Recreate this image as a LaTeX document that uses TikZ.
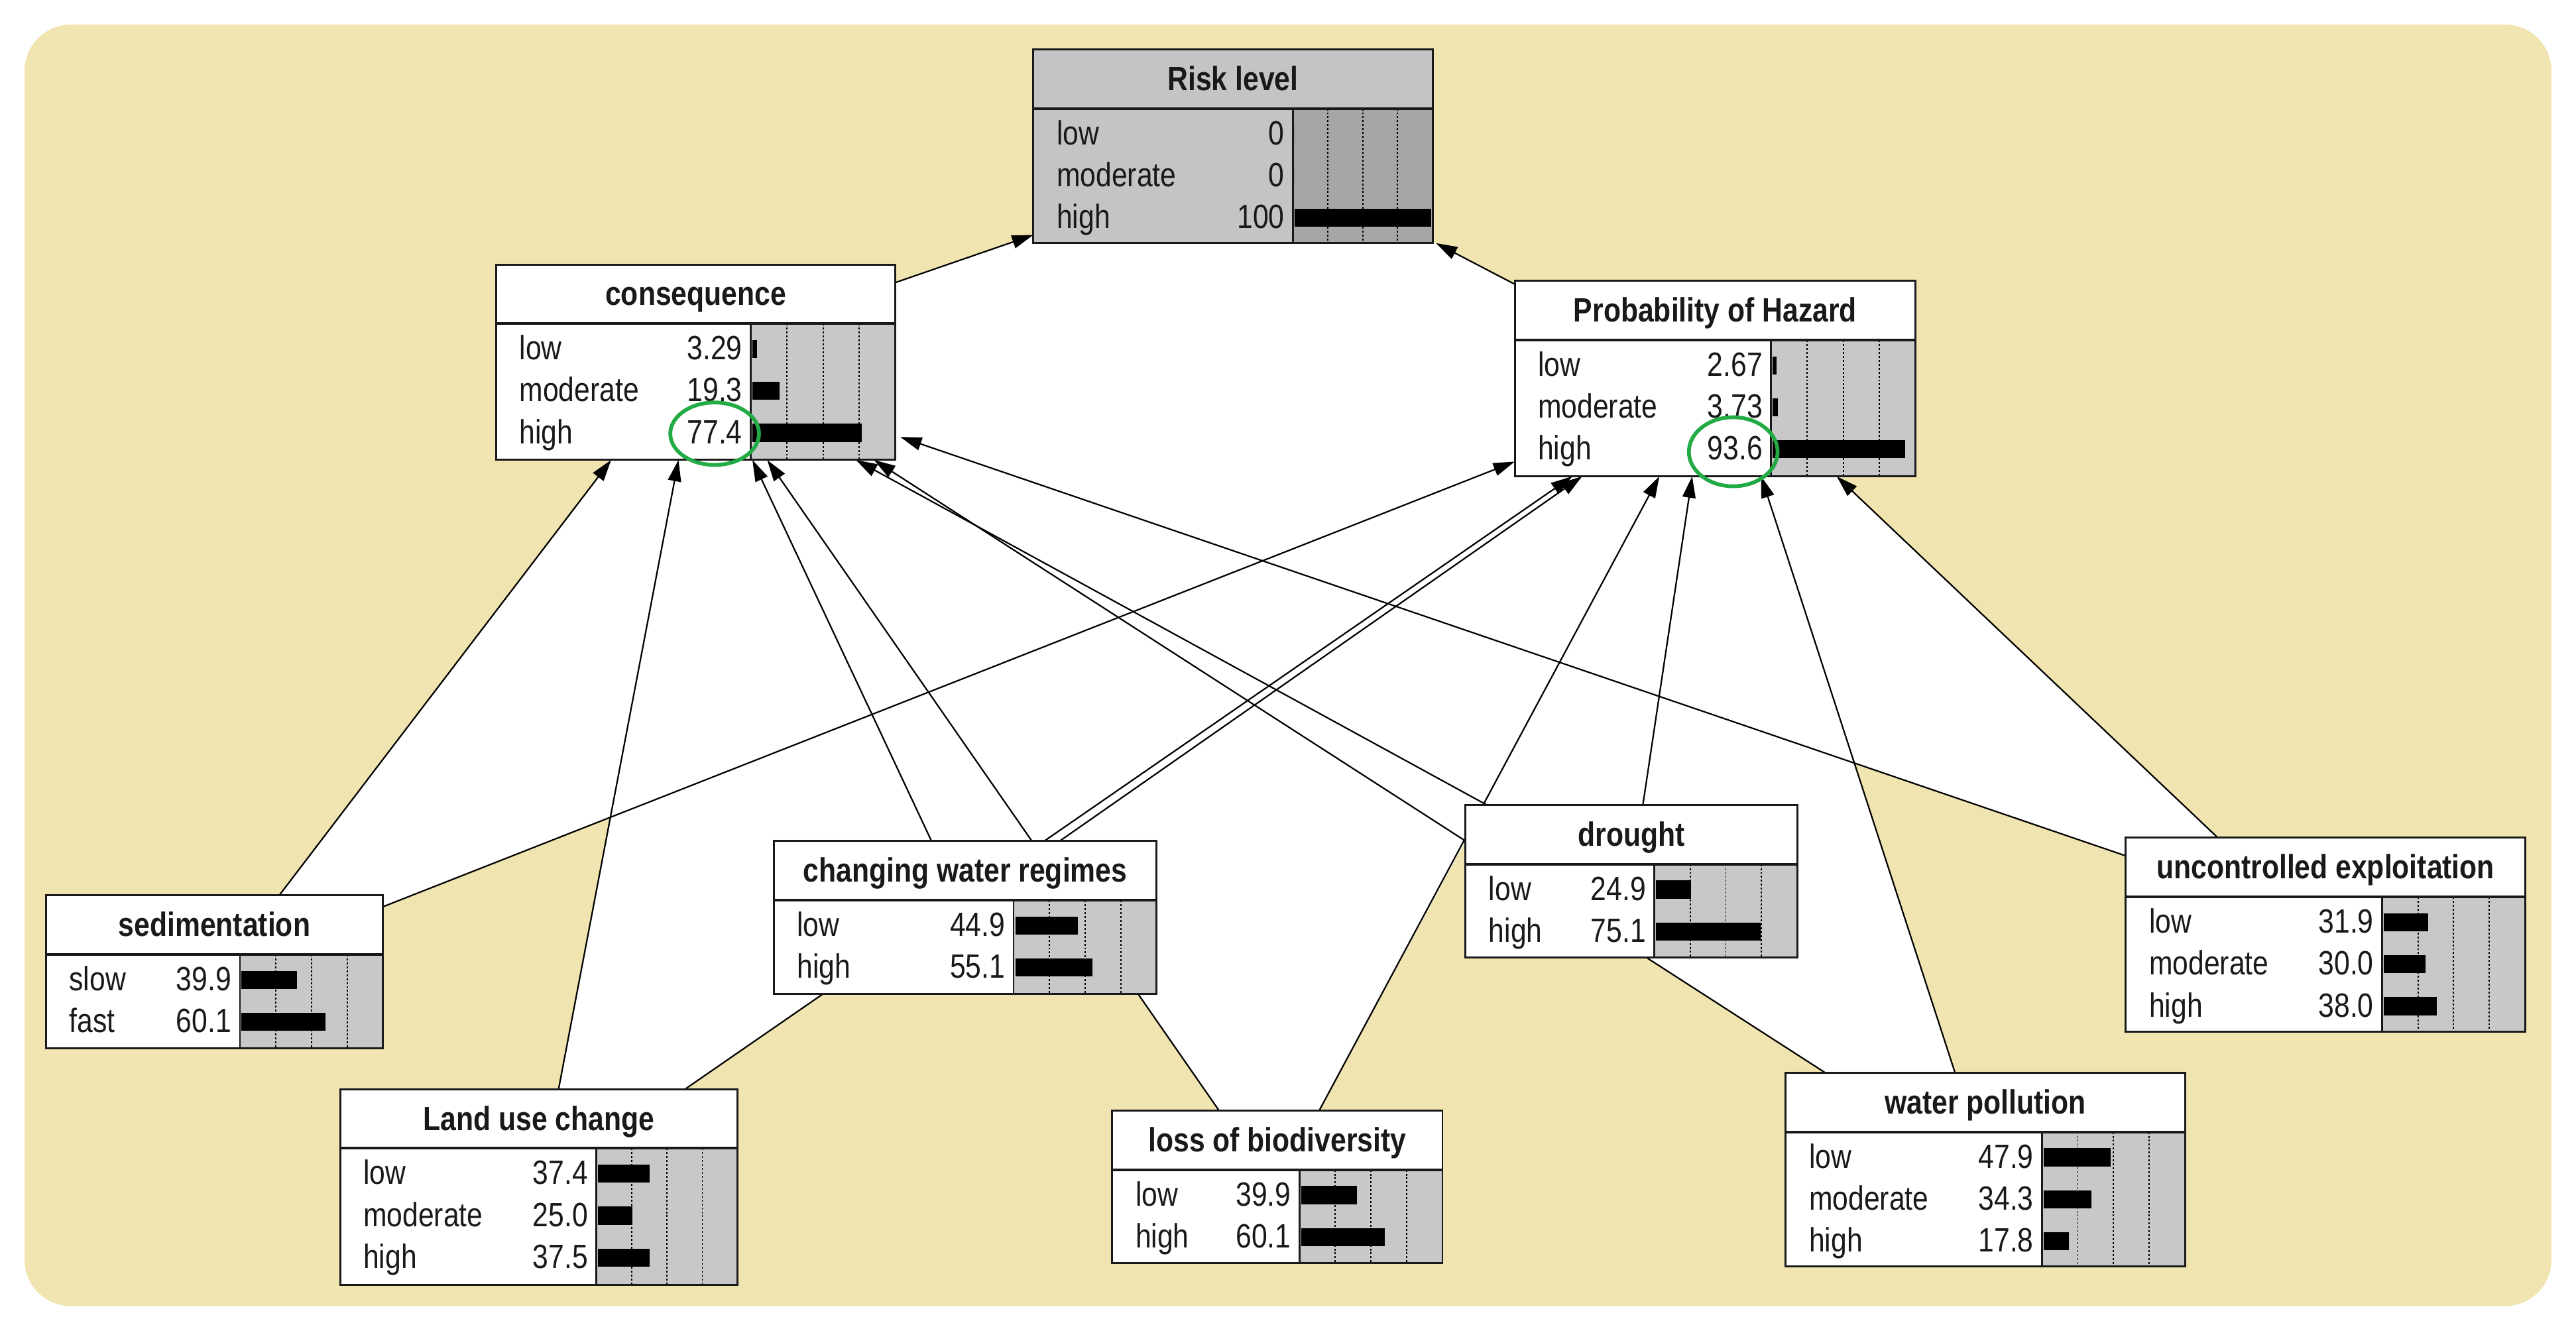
\documentclass[tikz,border=0pt]{standalone}
\usepackage{fontspec}
\setmainfont{Liberation Sans}[FakeStretch=0.84]
\usetikzlibrary{arrows.meta,calc,shapes.geometric}
\pgfdeclarelayer{bg}
\pgfdeclarelayer{edges}
\pgfsetlayers{bg,edges,main}
\definecolor{bgtan}{RGB}{240,228,176}
\definecolor{bargray}{RGB}{200,200,200}
\definecolor{evgray}{RGB}{196,196,196}
\definecolor{evbar}{RGB}{166,166,166}
\definecolor{hlgreen}{RGB}{34,170,68}
\definecolor{ink}{RGB}{25,25,25}
\colorlet{boxbg}{white}
\colorlet{barbg}{bargray}
\newcount\tcnt
\tikzset{
  boxnode/.style={inner sep=0pt, outer sep=0pt, draw=none},
  boxborder/.style={draw=ink, line width=1.2pt},
  sepline/.style={draw=ink, line width=1.6pt},
  divider/.style={draw=black, line width=0.8pt, dash pattern=on 1.2pt off 1.2pt},
  rowtext/.style={inner sep=0pt, text=ink, font=\fontsize{20.5}{22}\selectfont},
  titletext/.style={inner sep=0pt, text=ink, font=\fontsize{20.5}{22}\selectfont\bfseries},
  arr/.style={draw=black, line width=0.9pt, -{Triangle[length=13pt,width=8pt]}},
  hl/.style={draw=hlgreen, line width=2.3pt, ellipse, inner sep=0pt}
}
% #1 name, #2 L, #3 T, #4 R, #5 B, #6 title bottom, #7 bar left, #8 title
\newcommand\bnbox[8]{%
  \node[boxnode, anchor=north west, minimum width=\the\numexpr#4-#2\relax pt,
        minimum height=\the\numexpr#5-#3\relax pt] (#1) at (#2,#3) {};
  \fill[boxbg] (#2,#3) rectangle (#7,#5);
  \fill[boxbg] (#2,#3) rectangle (#4,#6);
  \fill[barbg] (#7,#6) rectangle (#4,#5);
  \foreach \k in {1,2,3} {\draw[divider] ({#7+\k*(#4-#7)/4},#6) -- ({#7+\k*(#4-#7)/4},#5);}
  \draw[draw=ink, line width=1pt] (#7,#6) -- (#7,#5);
  \draw[sepline] (#2,#6) -- (#4,#6);
  \global\advance\tcnt by 1
  \node[titletext, anchor=base] (txt\the\tcnt) at ({(#2+#4)/2},{(#3+#6)/2+7}) {#8};
}
\newcommand\bnframe[1]{\draw[boxborder] (#1.north west) rectangle (#1.south east);}
% #1 L, #2 barL, #3 R, #4 y, #5 label, #6 value, #7 pct
\newcommand\bnrow[7]{%
  \global\advance\tcnt by 1
  \node[rowtext, anchor=base west] (txt\the\tcnt) at (#1+14,#4+7) {#5};
  \global\advance\tcnt by 1
  \node[rowtext, anchor=base east] (txt\the\tcnt) at (#2-5,#4+7) {#6};
  \fill[black] (#2+1,#4-5) rectangle ({#2+1+#7*(#3-#2-2)/100},#4+6);
}
\begin{document}
\begin{tikzpicture}[x=1pt,y=-1pt]
\useasboundingbox (0,0) rectangle (1568,809);
\begin{pgfonlayer}{bg}
  \fill[white] (0,0) rectangle (1568,809);
  \fill[bgtan, rounded corners=28pt] (15,15) rectangle (1553,795);
  \fill[white] (170,545) -- (372,281) -- (545,172) -- (629,143) -- (874,148)
    -- (922,173) -- (1118,290) -- (1350,510) -- (1294,521) -- (1128,464)
    -- (1190,653) -- (1111,653) -- (1002,583) -- (892,512) -- (803,676)
    -- (742,676) -- (693,605) -- (501,605) -- (417,663) -- (340,663)
    -- (372,497) -- (233,552) -- cycle;
\end{pgfonlayer}

% Risk level (evidence node, grey)
\colorlet{boxbg}{evgray}
\colorlet{barbg}{evbar}
\bnbox{risk}{629}{30}{872}{148}{66}{787}{Risk level}
\bnrow{629}{787}{872}{81}{low}{0}{0}
\bnrow{629}{787}{872}{106.5}{moderate}{0}{0}
\bnrow{629}{787}{872}{132}{high}{100}{100}
\bnframe{risk}
\colorlet{boxbg}{white}
\colorlet{barbg}{bargray}

% consequence
\bnbox{cons}{302}{161}{545}{280}{197}{457}{consequence}
\bnrow{302}{457}{545}{212}{low}{3.29}{3.29}
\bnrow{302}{457}{545}{237.5}{moderate}{19.3}{19.3}
\bnrow{302}{457}{545}{263}{high}{77.4}{77.4}
\bnframe{cons}

% Probability of Hazard
\bnbox{prob}{922}{171}{1166}{290}{207}{1078}{Probability of Hazard}
\bnrow{922}{1078}{1166}{222}{low}{2.67}{2.67}
\bnrow{922}{1078}{1166}{247.5}{moderate}{3.73}{3.73}
\bnrow{922}{1078}{1166}{273}{high}{93.6}{93.6}
\bnframe{prob}

% sedimentation
\bnbox{sed}{28}{545}{233}{638}{581}{146}{sedimentation}
\bnrow{28}{146}{233}{596}{slow}{39.9}{39.9}
\bnrow{28}{146}{233}{621.5}{fast}{60.1}{60.1}
\bnframe{sed}

% changing water regimes
\bnbox{cwr}{471}{512}{704}{605}{548}{617}{changing water regimes}
\bnrow{471}{617}{704}{563}{low}{44.9}{44.9}
\bnrow{471}{617}{704}{588.5}{high}{55.1}{55.1}
\bnframe{cwr}

% drought
\bnbox{drought}{892}{490}{1094}{583}{526}{1007}{drought}
\bnrow{892}{1007}{1094}{541}{low}{24.9}{24.9}
\bnrow{892}{1007}{1094}{566.5}{high}{75.1}{75.1}
\bnframe{drought}

% uncontrolled exploitation
\bnbox{unc}{1294}{510}{1537}{628}{546}{1450}{uncontrolled exploitation}
\bnrow{1294}{1450}{1537}{561}{low}{31.9}{31.9}
\bnrow{1294}{1450}{1537}{586.5}{moderate}{30.0}{30.0}
\bnrow{1294}{1450}{1537}{612}{high}{38.0}{38.0}
\bnframe{unc}

% Land use change
\bnbox{luc}{207}{663}{449}{782}{699}{363}{Land use change}
\bnrow{207}{363}{449}{714}{low}{37.4}{37.4}
\bnrow{207}{363}{449}{739.5}{moderate}{25.0}{25.0}
\bnrow{207}{363}{449}{765}{high}{37.5}{37.5}
\bnframe{luc}

% loss of biodiversity
\bnbox{lob}{677}{676}{878}{769}{712}{791}{loss of biodiversity}
\bnrow{677}{791}{878}{727}{low}{39.9}{39.9}
\bnrow{677}{791}{878}{752.5}{high}{60.1}{60.1}
\bnframe{lob}

% water pollution
\bnbox{wp}{1087}{653}{1330}{771}{689}{1243}{water pollution}
\bnrow{1087}{1243}{1330}{704}{low}{47.9}{47.9}
\bnrow{1087}{1243}{1330}{729.5}{moderate}{34.3}{34.3}
\bnrow{1087}{1243}{1330}{755}{high}{17.8}{17.8}
\bnframe{wp}

% highlight ellipses
\node[hl, minimum width=54pt, minimum height=38pt] (hlcons) at (435,264) {};
\node[hl, minimum width=54pt, minimum height=42pt] (hlprob) at (1055,275) {};

% connectors
\begin{pgfonlayer}{edges}
  \draw[arr] ($(cons.north east)+(0,11)$) -- ($(risk.south west)+(0,-5)$);
  \draw[arr] ($(prob.north west)+(0,2)$) -- ($(risk.south east)+(2,0)$);
  \draw[arr] ($(sed.north west)+(142,0)$) -- ($(cons.south west)+(70,0)$);
  \draw[arr] ($(sed.north east)+(0,7)$) -- ($(prob.south west)+(0,-9)$);
  \draw[arr] ($(luc.north west)+(133,0)$) -- ($(cons.south west)+(111,0)$);
  \draw[arr] ($(luc.north west)+(210,0)$) -- ($(prob.south west)+(35,0)$);
  \draw[arr] ($(cwr.north west)+(96,0)$) -- ($(cons.south west)+(156,0)$);
  \draw[arr] ($(cwr.north west)+(174,0)$) -- ($(prob.south west)+(41,0)$);
  \draw[arr] ($(lob.north west)+(65,0)$) -- ($(cons.south west)+(165,0)$);
  \draw[arr] ($(lob.north west)+(126,0)$) -- ($(prob.south west)+(88,0)$);
  \draw[arr] ($(drought.north west)+(13,0)$) -- ($(cons.south west)+(219,0)$);
  \draw[arr] ($(drought.north west)+(108,0)$) -- ($(prob.south west)+(108,0)$);
  \draw[arr] ($(wp.north west)+(24,0)$) -- ($(cons.south west)+(230,0)$);
  \draw[arr] ($(wp.north west)+(103,0)$) -- ($(prob.south west)+(150,0)$);
  \draw[arr] ($(unc.north west)+(0,11)$) -- ($(cons.south east)+(3,-14)$);
  \draw[arr] ($(unc.north west)+(56,0)$) -- ($(prob.south west)+(196,0)$);
\end{pgfonlayer}
\end{tikzpicture}
\end{document}
